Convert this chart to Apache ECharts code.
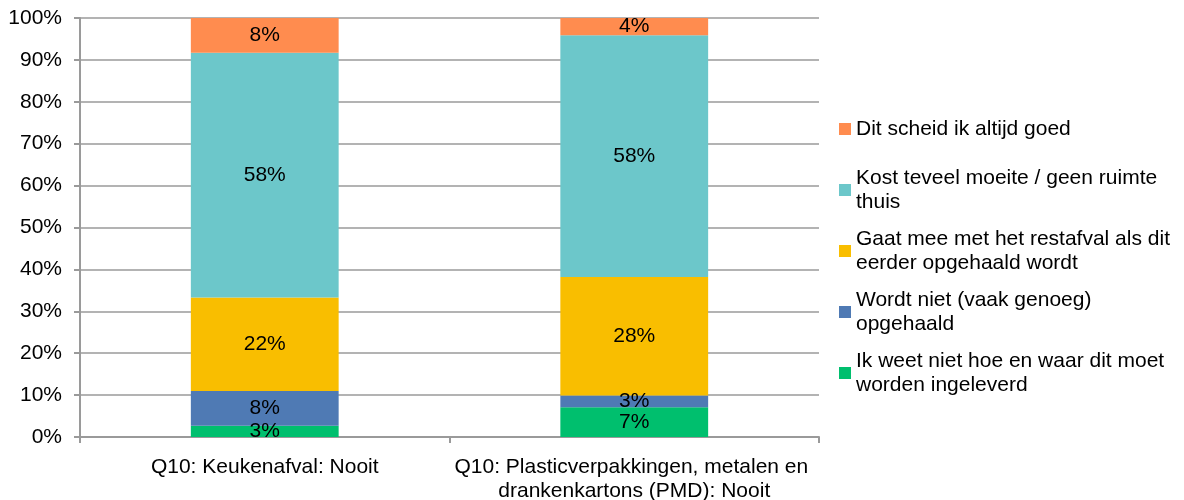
<!DOCTYPE html>
<html>
<head>
<meta charset="utf-8">
<title>Q10 redenen</title>
<script src="https://cdn.jsdelivr.net/npm/echarts@6/dist/echarts.min.js"></script>
<style>
  html, body { margin: 0; padding: 0; background: #fff; }
  #main { width: 1184px; height: 500px; }
</style>
</head>
<body>
<div id="main"></div>
<script>
// categorieen (x-as)
var categories = [
  'Q10: Keukenafval: Nooit',
  'Q10: Plasticverpakkingen, metalen en drankenkartons (PMD): Nooit'
];
// percentages per antwoord, van onder naar boven gestapeld
var weetNiet = [2.7, 7.1];
var nietOpgehaald = [8.3, 2.8];
var restafval = [22.3, 28.3];
var teveelMoeite = [58.4, 57.7];
var altijdGoed = [8.3, 4.1];
var yTicks = [0, 10, 20, 30, 40, 50, 60, 70, 80, 90, 100];

var names = [
  'Ik weet niet hoe en waar dit moet worden ingeleverd',
  'Wordt niet (vaak genoeg) opgehaald',
  'Gaat mee met het restafval als dit eerder opgehaald wordt',
  'Kost teveel moeite / geen ruimte thuis',
  'Dit scheid ik altijd goed'
];
var values = [weetNiet, nietOpgehaald, restafval, teveelMoeite, altijdGoed];
var colors = ['#00BF6E', '#4F7AB4', '#F9BE00', '#6CC7CA', '#FF8C4F'];

var font = "'Liberation Sans', Arial, sans-serif";
var axisGray = '#9A9A9A';

var myChart = echarts.init(document.getElementById('main'));

var series = names.map(function(name, i) {
  return {
    name: name,
    type: 'bar',
    stack: 'totaal',
    barWidth: '40%',
    itemStyle: { color: colors[i] },
    label: {
      show: true,
      position: 'inside',
      color: '#000',
      fontFamily: font,
      fontSize: 21,
      formatter: function(p) {
        return Math.round(p.value) + '%';
      }
    },
    data: values[i]
  };
});

myChart.setOption({
  animation: false,
  color: colors,
  grid: { left: 80, right: 365, top: 18, bottom: 63, outerBoundsMode: 'none' },
  legend: {
    orient: 'vertical',
    left: 839,
    top: 93,
    padding: 0,
    icon: 'rect',
    itemWidth: 12,
    itemHeight: 12,
    itemGap: -11,
    textStyle: {
      fontFamily: font,
      fontSize: 21,
      color: '#000',
      lineHeight: 24,
      width: 325,
      overflow: 'break',
      padding: [24, 0, 0, 0],
      backgroundColor: 'rgba(0,0,0,0)'
    },
    data: [
      { name: names[4], textStyle: { padding: [24, 0, 24, 0] } },
      names[3], names[2], names[1], names[0]
    ]
  },
  xAxis: {
    type: 'category',
    data: categories,
    axisLine: { show: true, lineStyle: { color: axisGray, width: 2 } },
    axisTick: { show: true, length: 6, lineStyle: { color: axisGray, width: 2 } },
    axisLabel: {
      interval: 0,
      margin: 18,
      color: '#000',
      fontFamily: font,
      fontSize: 21,
      lineHeight: 24,
      width: 368,
      overflow: 'break'
    }
  },
  yAxis: {
    type: 'value',
    min: yTicks[0],
    max: yTicks[yTicks.length - 1],
    interval: 10,
    axisLine: { show: true, lineStyle: { color: axisGray, width: 2 } },
    axisTick: { show: true, length: 6, lineStyle: { color: axisGray, width: 2 } },
    splitLine: { show: true, lineStyle: { color: axisGray, width: 1.5 } },
    axisLabel: {
      margin: 18,
      color: '#000',
      fontFamily: font,
      fontSize: 21,
      formatter: '{value}%'
    }
  },
  series: series
});
</script>
</body>
</html>
